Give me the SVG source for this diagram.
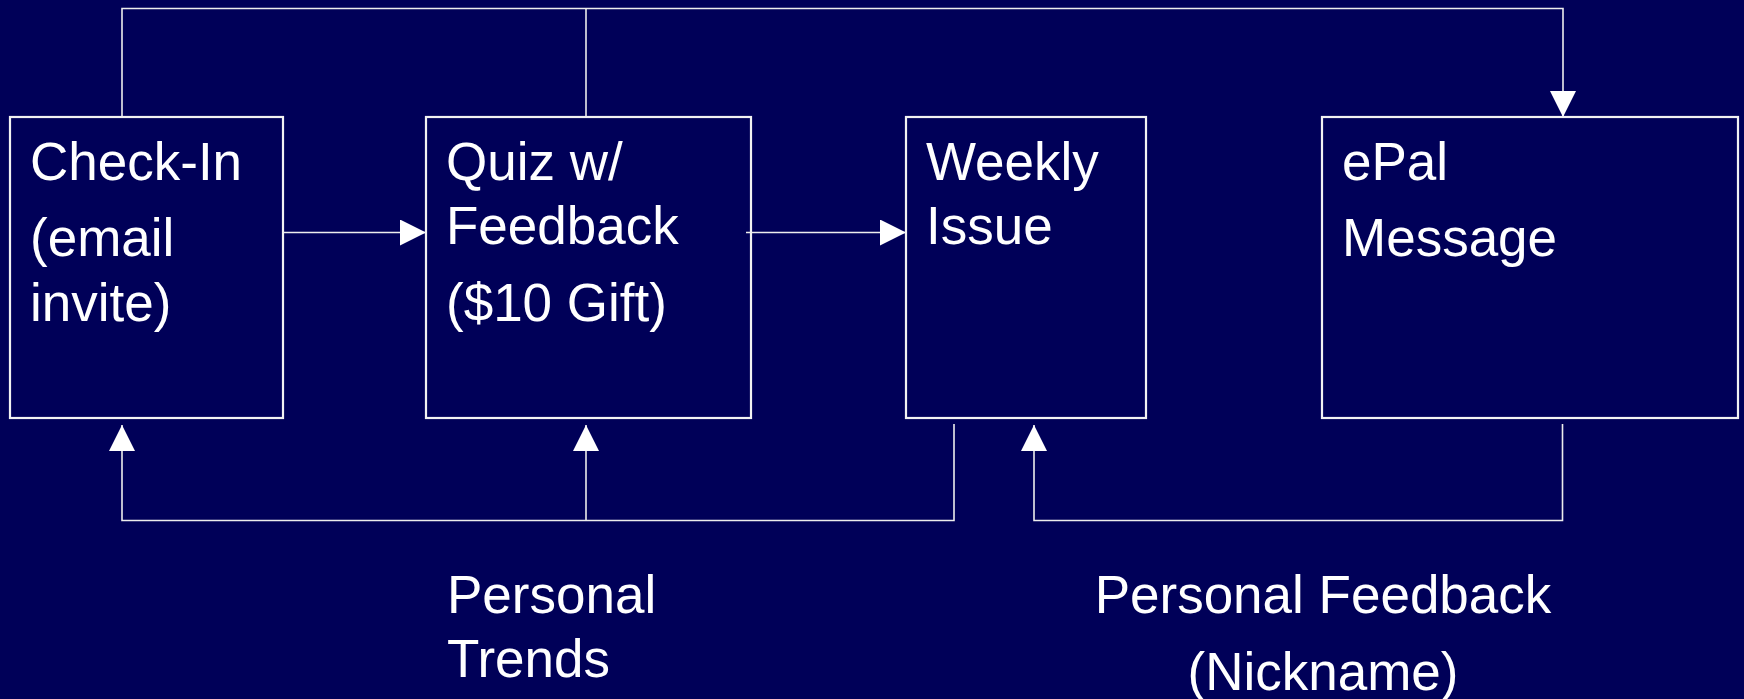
<svg xmlns="http://www.w3.org/2000/svg" width="1744" height="699" viewBox="0 0 1744 699">
  <style>
    .box { fill: none; stroke: #F2F2F2; stroke-width: 2.2; }
    .wire { fill: none; stroke: #EDEDED; stroke-width: 1.6; }
    .label { font-family: "Liberation Sans", Arial, sans-serif; font-size: 53px; fill: #FFFFFF; }
    .mid { text-anchor: middle; }
  </style>
  <defs>
    <marker id="head" viewBox="0 0 26 26" refX="26" refY="13" markerWidth="26" markerHeight="26" markerUnits="userSpaceOnUse" orient="auto">
      <path d="M0,0 L26,13 L0,26 Z" fill="#FFFFFF"/>
    </marker>
  </defs>

  <rect width="1744" height="699" fill="#000058"/>

  <!-- connectors -->
  <g id="connectors">
    <path class="wire" d="M122,117 V8.5 H1563 V117" marker-end="url(#head)"/>
    <path class="wire" d="M586,117 V8.5"/>
    <path class="wire" d="M283,232.5 H426" marker-end="url(#head)"/>
    <path class="wire" d="M746,232.5 H906" marker-end="url(#head)"/>
    <path class="wire" d="M954,424 V520.5 H122 V425" marker-end="url(#head)"/>
    <path class="wire" d="M586,520.5 V425" marker-end="url(#head)"/>
    <path class="wire" d="M1562.5,424 V520.5 H1034 V425" marker-end="url(#head)"/>
  </g>

  <g id="check-in">
    <rect class="box" x="10" y="117" width="273" height="301"/>
    <text class="label" x="30" y="180">Check-In</text>
    <text class="label" x="30" y="256">(email</text>
    <text class="label" x="30" y="321">invite)</text>
  </g>

  <g id="quiz">
    <rect class="box" x="426" y="117" width="325" height="301"/>
    <text class="label" x="446" y="180">Quiz w/</text>
    <text class="label" x="446" y="244">Feedback</text>
    <text class="label" x="446" y="321">($10 Gift)</text>
  </g>

  <g id="weekly-issue">
    <rect class="box" x="906" y="117" width="240" height="301"/>
    <text class="label" x="926" y="180">Weekly</text>
    <text class="label" x="926" y="244">Issue</text>
  </g>

  <g id="epal-message">
    <rect class="box" x="1322" y="117" width="416" height="301"/>
    <text class="label" x="1342" y="180">ePal</text>
    <text class="label" x="1342" y="256">Message</text>
  </g>

  <g id="personal-trends">
    <text class="label" x="447" y="613">Personal</text>
    <text class="label" x="447" y="677">Trends</text>
  </g>

  <g id="personal-feedback">
    <text class="label mid" x="1323" y="613">Personal Feedback</text>
    <text class="label mid" x="1323" y="690">(Nickname)</text>
  </g>
</svg>
